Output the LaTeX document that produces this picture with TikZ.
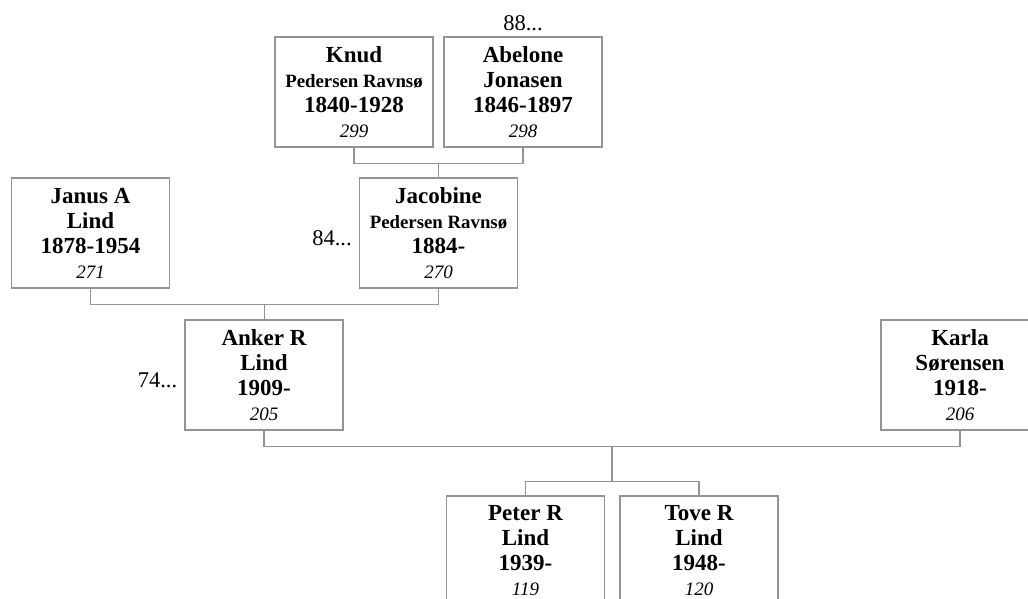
\documentclass[tikz,border=0pt]{standalone}
\usepackage{fontspec}
\setmainfont{Liberation Serif}
\usetikzlibrary{calc}
\newcommand{\PN}[1]{{\fontsize{23}{25}\selectfont\bfseries #1}}
\newcommand{\PS}[1]{{\fontsize{18.8}{25}\selectfont\bfseries #1}}
\newcommand{\PI}[1]{{\fontsize{19}{25}\selectfont\itshape #1}}
\tikzset{
  person/.style={draw=black!42, line width=1.2pt, minimum width=158, minimum height=110,
    inner sep=0pt, align=center, font=\fontsize{23}{25}\selectfont},
  link/.style={draw=black!42, line width=1.2pt},
  refnum/.style={font=\fontsize{22.5}{24}\selectfont, inner sep=0pt}
}
\begin{document}
\begin{tikzpicture}[x=1pt,y=-1pt]
\useasboundingbox (0,0) rectangle (1028,598);
% boxes
\node[person] (knud) at (354,92) {\PN{Knud}\\ \PS{Pedersen Ravnsø}\\ \PN{1840-1928}\\ \PI{299}};
\node[person] (abelone) at (523,92) {\PN{Abelone}\\ \PN{Jonasen}\\ \PN{1846-1897}\\ \PI{298}};
\node[person] (janus) at (90.5,233) {\PN{Janus A}\\ \PN{Lind}\\ \PN{1878-1954}\\ \PI{271}};
\node[person] (jacobine) at (438.5,233) {\PN{Jacobine}\\ \PS{Pedersen Ravnsø}\\ \PN{1884-}\\ \PI{270}};
\node[person] (anker) at (264,375) {\PN{Anker R}\\ \PN{Lind}\\ \PN{1909-}\\ \PI{205}};
\node[person] (karla) at (960,375) {\PN{Karla}\\ \PN{Sørensen}\\ \PN{1918-}\\ \PI{206}};
\node[person] (peter) at (525.5,551) {\PN{Peter R}\\ \PN{Lind}\\ \PN{1939-}\\ \PI{119}};
\node[person] (tove) at (699,551) {\PN{Tove R}\\ \PN{Lind}\\ \PN{1948-}\\ \PI{120}};
% reference numbers
\node[refnum, anchor=south] (r88) at ([yshift=5pt]abelone.north) {88...};
\node[refnum, anchor=east] (r84) at ([xshift=-7pt,yshift=-5pt]jacobine.west) {84...};
\node[refnum, anchor=east] (r74) at ([xshift=-7pt,yshift=-5pt]anker.west) {74...};
% connectors
\coordinate (c1) at ($(knud.south)!0.5!(abelone.south)+(0,16)$);
\draw[link] (knud.south) -- ++(0,16) -| (abelone.south);
\draw[link] (c1) -- (c1 |- jacobine.north);
\coordinate (c2) at ($(janus.south)!0.5!(jacobine.south)+(0,16)$);
\draw[link] (janus.south) -- ++(0,16) -| (jacobine.south);
\draw[link] (c2) -- (c2 |- anker.north);
\coordinate (c3) at ($(anker.south)!0.5!(karla.south)+(0,16)$);
\draw[link] (anker.south) -- ++(0,16) -| (karla.south);
\coordinate (c4) at ($(c3)+(0,35)$);
\draw[link] (c3) -- (c4);
\draw[link] (peter.north) -- (peter.north |- c4) -- (tove.north |- c4) -- (tove.north);
\end{tikzpicture}
\end{document}
